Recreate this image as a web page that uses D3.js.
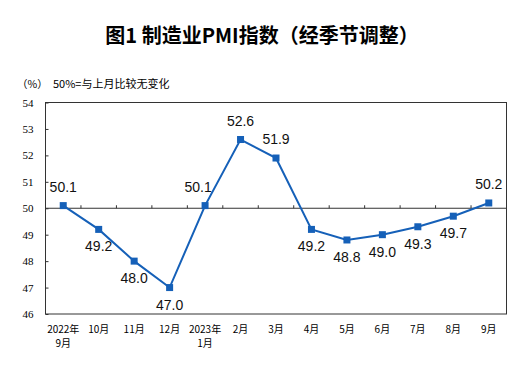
<!DOCTYPE html>
<html><head><meta charset="utf-8">
<script src="https://cdn.jsdelivr.net/npm/d3@7"></script>
<style>body{margin:0;background:#fff}svg{display:block}</style>
</head><body>
<script>
const categories = ["2022年\n9月","10月","11月","12月","2023年\n1月","2月","3月","4月","5月","6月","7月","8月","9月"];
const values = [50.1,49.2,48.0,47.0,50.1,52.6,51.9,49.2,48.8,49.0,49.3,49.7,50.2];
const labelPos = ["up","down","down","down","up","up","up","down","down","down","down","down","up"];
const yTicks = [46,47,48,49,50,51,52,53,54];
const title = "图1 制造业PMI指数（经季节调整）";
const unitLabel = "（%）";
const note = "50%=与上月比较无变化";

const W=525,H=367;
const m={l:45.5,r:18.5,t:102.5,b:53};
const svg=d3.select("body").append("svg").attr("width",W).attr("height",H);
const cjk="'Noto Sans CJK SC','Noto Sans',sans-serif";
const x=d3.scaleBand().domain(categories).range([m.l,W-m.r]);
const y=d3.scaleLinear().domain([46,54]).range([H-m.b,m.t]);
const color="#1560b8";

svg.append("text").attr("x",262).attr("y",43).attr("text-anchor","middle")
  .attr("font-family",cjk).attr("font-weight","bold").attr("font-size",20).text(title);
svg.append("text").attr("x",17).attr("y",88).attr("font-family",cjk).attr("font-size",10.5).text(unitLabel);
svg.append("text").attr("x",53).attr("y",88).attr("font-family",cjk).attr("font-size",11).text(note);

// frame
svg.append("rect").attr("x",m.l).attr("y",m.t).attr("width",W-m.r-m.l).attr("height",H-m.b-m.t)
  .attr("fill","none").attr("stroke","#333").attr("stroke-width",1);

// y axis
const ya=svg.append("g").attr("transform",`translate(${m.l},0)`)
  .call(d3.axisRight(y).tickValues(yTicks).tickSize(3).tickFormat(d3.format("d")));
ya.select(".domain").remove();
ya.selectAll("line").attr("stroke","#333");
ya.selectAll("text").attr("x",-12).attr("text-anchor","end").attr("font-family","'Liberation Serif',serif")
  .attr("font-size",11).attr("fill","#000");

// x axis at 50
const xa=svg.append("g").attr("transform",`translate(0,${y(50)})`);
xa.append("line").attr("x1",m.l).attr("x2",W-m.r).attr("stroke","#333").attr("stroke-width",1.2);
xa.selectAll(".tk").data(categories.slice(1)).join("line").attr("class","tk")
  .attr("x1",d=>x(d)).attr("x2",d=>x(d)).attr("y1",0).attr("y2",-3).attr("stroke","#333");

// x labels
const xl=svg.append("g");
categories.forEach(c=>{
  const lines=c.split("\n");
  lines.forEach((s,i)=>xl.append("text").attr("x",x(c)+x.bandwidth()/2).attr("y",H-m.b+19+i*14)
    .attr("text-anchor","middle").attr("font-family",cjk).attr("font-size",10).text(s));
});

const cx=d=>x(d)+x.bandwidth()/2;
svg.append("path").datum(categories).attr("fill","none").attr("stroke",color).attr("stroke-width",2)
  .attr("d",d3.line().x(d=>cx(d)).y((d,i)=>y(values[i])));
svg.selectAll(".pt").data(categories).join("rect").attr("class","pt")
  .attr("x",d=>cx(d)-3.5).attr("y",(d,i)=>y(values[i])-3.5).attr("width",7).attr("height",7).attr("fill",color);

svg.selectAll(".lb").data(categories).join("text").attr("class","lb")
  .attr("x",(d,i)=>cx(d)+(i===4?-7:0))
  .attr("y",(d,i)=>y(values[i])+(labelPos[i]==="up"?-14:22))
  .attr("text-anchor","middle").attr("font-family","'Liberation Sans',Arial,sans-serif").attr("font-size",14)
  .attr("fill","#111").text((d,i)=>values[i].toFixed(1));
</script>
</body></html>
